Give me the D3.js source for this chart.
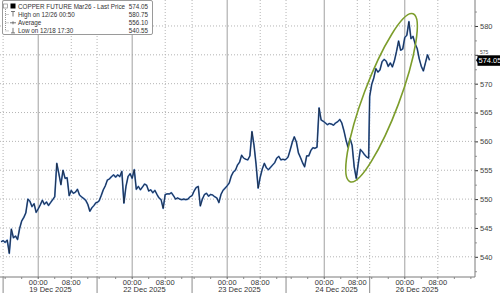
<!DOCTYPE html>
<html>
<head>
<meta charset="utf-8">
<script src="https://cdn.jsdelivr.net/npm/d3@7"></script>
<style>
  body { margin: 0; background: #fff; }
  svg { display: block; font-family: "Liberation Sans", Arial, sans-serif; }
</style>
</head>
<body>
<div id="chart"></div>
<script>
// trading sessions (gaps between them are collapsed on the x axis)
const sessions = [
  {day: "19 Dec 2025", open: "2025-12-18T15:30", close: "2025-12-19T14:15"},
  {day: "22 Dec 2025", open: "2025-12-21T15:30", close: "2025-12-22T14:30"},
  {day: "23 Dec 2025", open: "2025-12-22T15:30", close: "2025-12-23T14:15"},
  {day: "24 Dec 2025", open: "2025-12-23T14:45", close: "2025-12-24T11:00"},
  {day: "26 Dec 2025", open: "2025-12-25T15:30", close: "2025-12-26T14:15"}
];
const axisStart = "2025-12-18T14:45";
const axisEnd = "2025-12-26T17:00";

// copper price, one value every 30 minutes from each start time
const seriesStart = ["2025-12-18T15:00", "2025-12-21T15:30", "2025-12-22T15:30", "2025-12-23T14:45", "2025-12-25T15:30"];
const dec19 = [542.6, 542.8, 542.5, 542.9, 540.6, 544.8, 543.3, 543.6, 543.0,
  544.9, 546.2, 546.8, 547.6, 550.0, 549.6, 548.7, 549.2, 547.7, 548.3,
  549.0, 549.8, 549.1, 549.5, 548.9, 549.4, 549.9, 550.4, 556.2, 554.4,
  552.5, 555.0, 553.6, 553.7, 550.6, 551.5, 551.0, 551.2, 551.7, 550.7,
  550.4, 550.1, 549.8, 549.1, 547.9, 548.5, 548.9, 549.4];
const dec22 = [549.4, 549.7, 550.6, 551.6, 552.3, 553.3, 553.5, 553.9, 554.2, 553.8,
  554.2, 553.9, 554.8, 549.3, 552.2, 553.9, 554.4, 553.6, 555.1, 551.7,
  552.2, 551.6, 552.1, 552.6, 552.4, 551.4, 551.6, 551.1, 551.5, 550.8,
  550.2, 549.9, 548.4, 550.8, 550.9, 550.9, 551.1, 550.6, 550.0, 550.2,
  550.0, 549.9, 550.0, 549.9, 550.0, 550.4, 550.6];
const dec23 = [550.6, 551.4, 552.0, 552.2, 548.8, 550.0, 550.8, 551.0, 550.5, 550.8,
  550.7, 550.4, 550.2, 549.4, 550.8, 551.5, 551.9, 552.3, 552.8, 554.0,
  554.7, 555.0, 555.9, 556.4, 557.6, 557.1, 556.9, 556.8, 557.5, 561.7,
  559.3, 556.0, 551.9, 553.8, 555.2, 556.2, 555.4, 555.1, 555.5, 555.9,
  556.3, 557.1, 557.4, 556.8, 556.9, 556.8];
const dec24 = [556.9, 557.3, 558.5, 559.8, 560.8, 559.9, 558.0, 557.2, 556.3, 555.6,
  557.5, 557.5, 558.4, 558.9, 558.8, 559.0, 565.8, 563.7, 563.5, 563.2,
  562.9, 563.1, 563.0, 562.8, 563.2, 563.4, 563.8, 563.2, 561.9, 560.3,
  559.0, 560.5, 559.3, 555.6, 553.6, 556.2, 558.6, 558.2, 557.7, 557.3,
  557.1];
const dec26 = [567.8, 569.9, 571.0, 572.6, 572.0, 572.4, 573.8, 574.2, 573.9, 573.0,
  573.6, 572.9, 574.0, 575.6, 577.4, 575.8, 576.0, 578.0, 578.4, 580.75,
  577.8, 578.2, 576.9, 576.1, 574.3, 573.0, 572.2, 573.6, 575.0, 574.05];

const priceTicks = [540, 545, 550, 555, 560, 565, 570, 575, 580];
const minorPriceTicks = [537.5, 542.5, 547.5, 552.5, 557.5, 562.5, 567.5, 572.5, 577.5, 582.5];

const legendTitle = "COPPER FUTURE Mar26 - Last Price";
const lastPrice = 574.05;
const legendRows = [
  ["High on 12/26 00:50", "580.75"],
  ["Average", "556.10"],
  ["Low on 12/18 17:30", "540.55"]
];
// circled move: from 24 Dec morning low to the 26 Dec high
const ellipseEnds = [["2025-12-24T06:15", 553.0], ["2025-12-26T02:00", 582.1]];

const W = 500, H = 293;
const plot = {left: 0, right: 475, top: 0, bottom: 277};
const parse = d3.timeParse("%Y-%m-%dT%H:%M");

let acc = 0;
sessions.forEach(s => {
  s.o = parse(s.open); s.c = parse(s.close);
  s.offset = acc;
  acc += (s.c - s.o) / 36e5;
});

function tradeHours(t) {
  const s = sessions.filter(q => q.o <= t).pop() || sessions[0];
  return s.offset + (t - s.o) / 36e5;
}

const x = d3.scaleLinear()
  .domain([tradeHours(parse(axisStart)), tradeHours(parse(axisEnd))])
  .range([plot.left, plot.right]);
const y = d3.scaleLinear().domain([536.5, 584.5]).range([plot.bottom, plot.top]);

const points = [];
[dec19, dec22, dec23, dec24, dec26].forEach((arr, i) => {
  const t0 = parse(seriesStart[i]);
  arr.forEach((v, k) => points.push({t: new Date(+t0 + k * 18e5), v: v}));
});

const svg = d3.select("#chart").append("svg").attr("width", W).attr("height", H);

// horizontal grid
svg.append("g").selectAll("line").data(priceTicks).join("line")
  .attr("x1", plot.left).attr("x2", plot.right)
  .attr("y1", d => y(d)).attr("y2", d => y(d))
  .attr("stroke", "#b4b4b4").attr("stroke-dasharray", "1,2");

// vertical grid: session start (dotted), 00:00 (solid), 08:00 (dotted)
const vgrid = svg.append("g");
sessions.forEach(s => {
  const mid = d3.timeDay.floor(s.c);
  const eight = d3.timeHour.offset(mid, 8);
  s.xOpen = x(tradeHours(s.o));
  s.xMid = x(tradeHours(mid));
  s.xEight = x(tradeHours(eight));
  vgrid.append("line").attr("x1", s.xOpen).attr("x2", s.xOpen).attr("y1", 0).attr("y2", plot.bottom)
    .attr("stroke", "#b4b4b4").attr("stroke-dasharray", "1,2");
  vgrid.append("line").attr("x1", s.xEight).attr("x2", s.xEight).attr("y1", 0).attr("y2", plot.bottom)
    .attr("stroke", "#b4b4b4").attr("stroke-dasharray", "1,2");
  vgrid.append("line").attr("x1", s.xMid).attr("x2", s.xMid).attr("y1", 0).attr("y2", plot.bottom)
    .attr("stroke", "#a0a0a0");
});

// price line: blue body with a dark core
const line = d3.line().x(d => x(tradeHours(d.t))).y(d => y(d.v));
svg.append("path").datum(points).attr("d", line)
  .attr("fill", "none").attr("stroke", "#4677c0").attr("stroke-width", 1.7).attr("stroke-linejoin", "round");
svg.append("path").datum(points).attr("d", line)
  .attr("fill", "none").attr("stroke", "#121a26").attr("stroke-width", 0.75).attr("stroke-linejoin", "round");

// ellipse annotation
const e0 = [x(tradeHours(parse(ellipseEnds[0][0]))), y(ellipseEnds[0][1])];
const e1 = [x(tradeHours(parse(ellipseEnds[1][0]))), y(ellipseEnds[1][1])];
const ecx = (e0[0] + e1[0]) / 2, ecy = (e0[1] + e1[1]) / 2;
const erx = Math.hypot(e1[0] - e0[0], e1[1] - e0[1]) / 2;
const eang = Math.atan2(e1[1] - e0[1], e1[0] - e0[0]) * 180 / Math.PI;
svg.append("ellipse")
  .attr("cx", 0).attr("cy", 0).attr("rx", erx).attr("ry", 18)
  .attr("transform", `translate(${ecx},${ecy}) rotate(${eang})`)
  .attr("fill", "none").attr("stroke", "#7c9d2b").attr("stroke-width", 1.6);

// right axis
const yAxis = svg.append("g").attr("transform", `translate(${plot.right},0)`)
  .call(d3.axisRight(y).tickValues(priceTicks).tickSize(3).tickPadding(2).tickFormat(d3.format("d")));
yAxis.select(".domain").remove();
yAxis.selectAll("line").attr("stroke", "#333");
yAxis.selectAll("text").attr("fill", "#444").attr("font-size", "7.5px").attr("font-family", "Liberation Sans, Arial, sans-serif");
// the label just above the last price tag is squeezed, as in the original
yAxis.selectAll(".tick").filter(d => Math.abs(y(d) - y(lastPrice)) < 9).select("text")
  .attr("font-size", "5px").attr("dy", "-0.2em");
const yMinor = svg.append("g").attr("transform", `translate(${plot.right},0)`)
  .call(d3.axisRight(y).tickValues(minorPriceTicks).tickSize(2).tickFormat(""));
yMinor.select(".domain").remove();
yMinor.selectAll("line").attr("stroke", "#999");
svg.append("line").attr("x1", plot.right).attr("x2", plot.right).attr("y1", 0).attr("y2", plot.bottom)
  .attr("stroke", "#7a7a7a");

// bottom axis
svg.append("line").attr("x1", plot.left).attr("x2", plot.right).attr("y1", plot.bottom).attr("y2", plot.bottom)
  .attr("stroke", "#7a7a7a");
const xa = svg.append("g").attr("font-size", "7.5px").attr("fill", "#333");
sessions.forEach((s, i) => {
  xa.append("line").attr("x1", s.xOpen).attr("x2", s.xOpen).attr("y1", plot.bottom).attr("y2", H)
    .attr("stroke", "#8a8a8a");
  const endT = i === sessions.length - 1 ? parse(axisEnd) : s.c;
  d3.timeHour.every(4).range(s.o, endT).forEach(t => {
    const h = t.getHours();
    const xt = x(tradeHours(t));
    xa.append("line").attr("x1", xt).attr("x2", xt).attr("y1", plot.bottom).attr("y2", plot.bottom + 2)
      .attr("stroke", h === 0 ? "#666" : "#888");
  });
  xa.append("text").attr("x", s.xMid).attr("y", 284.5).attr("text-anchor", "middle").text("00:00");
  xa.append("text").attr("x", s.xEight).attr("y", 284.5).attr("text-anchor", "middle").text("08:00");
  xa.append("text").attr("x", s.xMid - 9).attr("y", 292).text(s.day);
});

// last price tag
const yl = y(lastPrice);
svg.append("path")
  .attr("d", `M${plot.right + 1},${yl} L${plot.right + 3},${yl - 3} L${plot.right + 3},${yl + 3} Z`)
  .attr("fill", "#000");
svg.append("rect").attr("x", plot.right + 2.5).attr("y", yl - 5).attr("width", W - plot.right - 2.5).attr("height", 10.5)
  .attr("fill", "#000");
svg.append("text").attr("x", plot.right + 3.5).attr("y", yl + 2.8).attr("fill", "#fff")
  .attr("font-size", "7.5px").text(d3.format(".2f")(lastPrice));

// legend
const lg = svg.append("g").attr("font-size", "6.3px").attr("fill", "#333");
lg.append("rect").attr("x", 2.5).attr("y", 0.5).attr("width", 150).attr("height", 34)
  .attr("rx", 1.5).attr("fill", "#fff").attr("stroke", "#9a9a9a");
const rowY = [8.5, 16.8, 25.1, 33.2];
lg.append("line").attr("x1", 5.5).attr("x2", 5.5).attr("y1", 9).attr("y2", rowY[3] - 2.5)
  .attr("stroke", "#999").attr("stroke-dasharray", "1,1");
lg.append("rect").attr("x", 3.5).attr("y", 4).attr("width", 4).attr("height", 4)
  .attr("fill", "#fff").attr("stroke", "#888").attr("stroke-width", 0.7);
lg.append("rect").attr("x", 10.5).attr("y", 3.5).attr("width", 5).attr("height", 5).attr("fill", "#000");
lg.append("text").attr("x", 18).attr("y", rowY[0]).text(legendTitle);
lg.append("text").attr("x", 148).attr("y", rowY[0]).attr("text-anchor", "end").text(d3.format(".2f")(lastPrice));
legendRows.forEach((r, i) => {
  const yy = rowY[i + 1] - 2.3;
  lg.append("line").attr("x1", 5.5).attr("x2", 9).attr("y1", yy).attr("y2", yy)
    .attr("stroke", "#999").attr("stroke-dasharray", "1,1");
  const ic = lg.append("g").attr("stroke", "#555").attr("stroke-width", 0.8);
  if (i === 0) {
    ic.append("line").attr("x1", 11).attr("x2", 15).attr("y1", yy - 3).attr("y2", yy - 3);
    ic.append("line").attr("x1", 13).attr("x2", 13).attr("y1", yy - 3).attr("y2", yy + 2);
  } else if (i === 1) {
    ic.append("line").attr("x1", 10).attr("x2", 16).attr("y1", yy).attr("y2", yy);
    ic.append("line").attr("x1", 13).attr("x2", 13).attr("y1", yy - 1.5).attr("y2", yy + 1.5);
  } else {
    ic.append("line").attr("x1", 13).attr("x2", 13).attr("y1", yy - 3).attr("y2", yy + 2);
    ic.append("line").attr("x1", 11).attr("x2", 15).attr("y1", yy + 2).attr("y2", yy + 2);
  }
  lg.append("text").attr("x", 18).attr("y", rowY[i + 1]).text(r[0]);
  lg.append("text").attr("x", 148).attr("y", rowY[i + 1]).attr("text-anchor", "end").text(r[1]);
});
</script>
</body>
</html>
